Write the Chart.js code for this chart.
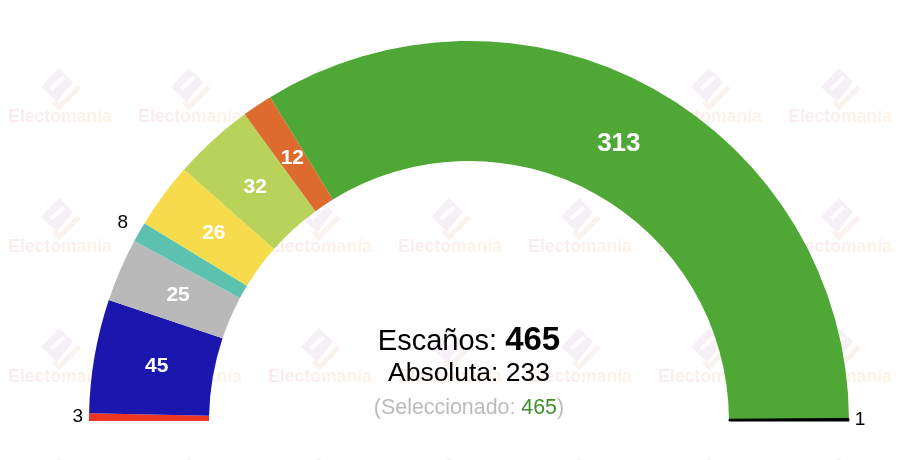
<!DOCTYPE html>
<html>
<head>
<meta charset="utf-8">
<style>
  html, body { margin: 0; padding: 0; background: #fff; }
  #wrap { width: 900px; height: 460px; position: relative; }
</style>
<script src="https://cdn.jsdelivr.net/npm/chart.js@4"></script>
</head>
<body>
<div id="wrap"><canvas id="myChart"></canvas></div>
<script>
// seats per party, left to right
const parties = ['Rojo', 'Azul', 'Gris', 'Turquesa', 'Amarillo', 'Lima', 'Naranja', 'Verde', 'Negro'];
const seats = [3, 45, 25, 8, 26, 32, 12, 313, 1];
const partyColors = ['#ee3524', '#1b17ae', '#b9b9b9', '#5cc2af', '#f6db4a', '#b8d25a', '#dd6b2d', '#4fa835', '#000000'];
const partyBorders = [0, 0, 0, 0, 0, 0, 0, 0, 1];

const WATERMARK = 'Electomanía';
const FONT = '"Liberation Sans", Arial, sans-serif';

/**
 * Draws one repeated logo + name of the watermark. (cx, cy) is the middle of the name.
 */
function drawMark(ctx, cx, cy) {
  ctx.save();
  const grad = ctx.createLinearGradient(cx - 52, 0, cx + 52, 0);
  grad.addColorStop(0, '#fbecec');
  grad.addColorStop(1, '#fdf3e8');
  ctx.fillStyle = grad;
  ctx.font = 'bold 17.6px ' + FONT;
  ctx.textAlign = 'center';
  ctx.textBaseline = 'middle';
  ctx.fillText(WATERMARK, cx, cy);

  // diamond logo
  ctx.translate(cx, cy - 29);
  ctx.fillStyle = '#f5f0f6';
  ctx.beginPath();
  ctx.moveTo(-1, -20);
  ctx.lineTo(13, -6);
  ctx.lineTo(-3, 14);
  ctx.lineTo(-19, -1);
  ctx.closePath();
  ctx.fill();
  ctx.strokeStyle = '#ffffff';
  ctx.lineWidth = 4;
  ctx.beginPath();
  ctx.moveTo(-9, 1);
  ctx.lineTo(4, -11);
  ctx.stroke();
  ctx.strokeStyle = '#f9f2ee';
  ctx.lineWidth = 5;
  ctx.beginPath();
  ctx.moveTo(19, -1);
  ctx.lineTo(-1, 19);
  ctx.lineTo(-6, 13);
  ctx.stroke();
  ctx.restore();
}

const watermarkPlugin = {
  id: 'watermark',
  beforeDraw(chart) {
    const ctx = chart.ctx;
    for (let y = 117; y < 520; y += 130) {
      for (let x = 60; x < 900; x += 130) {
        drawMark(ctx, x, y);
      }
    }
  }
};

const seatLabels = {
  id: 'seatLabels',
  afterDatasetsDraw(chart) {
    const ctx = chart.ctx;
    const arcs = chart.getDatasetMeta(0).data;
    ctx.save();
    ctx.textAlign = 'center';
    ctx.textBaseline = 'middle';
    arcs.forEach((arc, i) => {
      const value = seats[i];
      const mid = (arc.startAngle + arc.endAngle) / 2;
      if (value >= 10) {
        const r = (arc.innerRadius + arc.outerRadius) / 2 - 3;
        // the big slice label sits a bit left of its middle in the reference
        const nudge = value > 100 ? -4 : 0;
        ctx.fillStyle = '#ffffff';
        ctx.font = (value > 100 ? 'bold 26px ' : 'bold 21px ') + FONT;
        ctx.fillText(value, arc.x + r * Math.cos(mid) + nudge, arc.y + r * Math.sin(mid));
      } else {
        // thin slices get a black label outside the ring
        const r = arc.outerRadius + 11 + 16 * Math.abs(Math.sin(mid));
        ctx.fillStyle = '#000000';
        ctx.font = '19px ' + FONT;
        ctx.fillText(value, arc.x + r * Math.cos(mid), arc.y + r * Math.sin(mid));
      }
    });
    ctx.restore();
  }
};

const centerText = {
  id: 'centerText',
  afterDraw(chart) {
    const ctx = chart.ctx;
    ctx.save();
    ctx.textBaseline = 'alphabetic';
    ctx.textAlign = 'left';

    function line(parts, cx, y) {
      let w = 0;
      parts.forEach(p => { ctx.font = p.font; w += ctx.measureText(p.text).width; });
      let x = cx - w / 2;
      parts.forEach(p => {
        ctx.font = p.font;
        ctx.fillStyle = p.color;
        ctx.fillText(p.text, x, y);
        x += ctx.measureText(p.text).width;
      });
    }

    line([
      { text: 'Escaños: ', font: '29px ' + FONT, color: '#000' },
      { text: '465', font: 'bold 33px ' + FONT, color: '#000' }
    ], 469, 350);
    line([{ text: 'Absoluta: 233', font: '26.5px ' + FONT, color: '#000' }], 469, 381);
    line([
      { text: '(Seleccionado: ', font: '21.4px ' + FONT, color: '#bbbbbb' },
      { text: '465', font: '21.4px ' + FONT, color: '#3f8f2c' },
      { text: ')', font: '21.4px ' + FONT, color: '#bbbbbb' }
    ], 469, 414);
    ctx.restore();
  }
};

new Chart(document.getElementById('myChart'), {
  type: 'doughnut',
  data: {
    labels: parties,
    datasets: [{
      data: seats,
      backgroundColor: partyColors,
      borderColor: partyColors,
      borderWidth: partyBorders
    }]
  },
  options: {
    responsive: true,
    maintainAspectRatio: false,
    animation: false,
    events: [],
    rotation: -90,
    circumference: 180,
    cutout: '68.42%',
    // one pixel more on each side: the black slice border takes it back
    layout: { padding: { left: 88.5, right: 50.5, top: 40.5, bottom: 38.5 } },
    plugins: { legend: { display: false }, tooltip: { enabled: false } }
  },
  plugins: [watermarkPlugin, seatLabels, centerText]
});
</script>
</body>
</html>
